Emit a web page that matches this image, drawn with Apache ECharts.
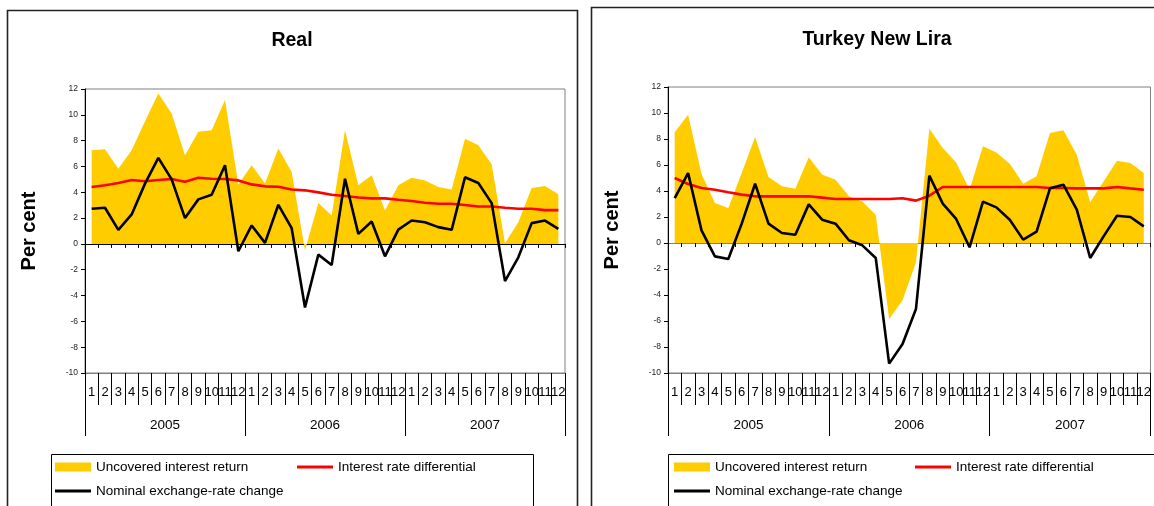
<!DOCTYPE html>
<html>
<head>
<meta charset="utf-8">
<script src="https://cdn.jsdelivr.net/npm/echarts@6/dist/echarts.min.js"></script>
<style>
  html, body { margin: 0; padding: 0; background: #fff; }
  #chart { width: 1154px; height: 506px; }
</style>
</head>
<body>
<div id="chart"></div>
<script>
// Monthly figures, 2005-2007, per cent
const years = ['2005', '2006', '2007'];
const months = ['1', '2', '3', '4', '5', '6', '7', '8', '9', '10', '11', '12'];
const yTicks = { min: -10, max: 12, step: 2 };

const seriesNames = ['Uncovered interest return', 'Interest rate differential', 'Nominal exchange-rate change'];

// Real
const realUncovered = [7.26, 7.34, 5.83, 7.26, 9.5, 11.66, 10.1, 6.87, 8.68, 8.81, 11.15, 4.6,
  6.1, 4.67, 7.39, 5.57, -0.5, 3.16, 2.2, 8.81, 4.54, 5.31, 2.59, 4.54,
  5.13, 4.92, 4.41, 4.22, 8.14, 7.65, 6.17, 0.05, 1.68, 4.33, 4.48, 3.84];
const realDifferential = [4.41, 4.54, 4.72, 4.95, 4.85, 4.95, 5.03, 4.82, 5.13, 5.05, 5.03, 4.92,
  4.61, 4.46, 4.43, 4.22, 4.15, 3.99, 3.81, 3.71, 3.6, 3.53, 3.53, 3.42,
  3.32, 3.19, 3.11, 3.11, 3.01, 2.9, 2.9, 2.8, 2.72, 2.72, 2.62, 2.62];
const realNominal = [2.72, 2.8, 1.09, 2.28, 4.67, 6.66, 5.0, 2.0, 3.45, 3.81, 6.09, -0.57,
  1.43, 0.08, 3.03, 1.22, -4.92, -0.83, -1.63, 5.05, 0.78, 1.74, -0.96, 1.11,
  1.81, 1.68, 1.3, 1.09, 5.16, 4.72, 3.16, -2.88, -1.04, 1.61, 1.81, 1.17];

// Turkey New Lira
const tryUncovered = [8.51, 9.87, 5.31, 3.08, 2.69, 5.38, 8.15, 5.08, 4.36, 4.18, 6.59, 5.26,
  4.87, 3.59, 3.2, 2.18, -5.85, -4.41, -1.5, 8.79, 7.31, 6.2, 4.1, 7.44,
  6.97, 6.1, 4.56, 5.13, 8.46, 8.67, 6.79, 3.13, 4.74, 6.33, 6.15, 5.38];
const tryDifferential = [5.0, 4.54, 4.23, 4.1, 3.9, 3.72, 3.59, 3.59, 3.59, 3.59, 3.59, 3.49,
  3.38, 3.38, 3.38, 3.38, 3.38, 3.44, 3.26, 3.64, 4.31, 4.31, 4.31, 4.31,
  4.31, 4.31, 4.31, 4.31, 4.23, 4.23, 4.2, 4.2, 4.2, 4.31, 4.2, 4.1];
const tryNominal = [3.46, 5.38, 0.97, -1.03, -1.23, 1.49, 4.56, 1.49, 0.77, 0.64, 2.97, 1.79,
  1.49, 0.21, -0.18, -1.15, -9.28, -7.77, -5.08, 5.18, 3.03, 1.85, -0.33, 3.18,
  2.74, 1.79, 0.26, 0.87, 4.21, 4.49, 2.56, -1.15, 0.51, 2.1, 2.0, 1.28];

const panels = [
  { title: 'Real', uncovered: realUncovered, differential: realDifferential, nominal: realNominal },
  { title: 'Turkey New Lira', uncovered: tryUncovered, differential: tryDifferential, nominal: tryNominal }
];

// one unique key per month; the label shows only the month number
const monthKeys = [];
years.forEach(y => months.forEach(m => monthKeys.push(y + '-' + m)));

const FONT = '"Liberation Sans", Arial, Helvetica, sans-serif';
const YELLOW = '#FFCC00';
const RED = '#FF0000';
const BLACK = '#000000';

// panel frames and plot areas (px)
const layout = [
  { frame: [7, 10, 570, 510], grid: { left: 85, right: 589, top: 89, bottom: 133 },
    titleX: 292, titleY: 39, nameX: 39, zeroColor: '#000', legendBox: [51, 454, 482, 60],
    legendCol1: 55, legendCol2: 297 },
  { frame: [591, 7, 580, 510], grid: { left: 668, right: 2, top: 87, bottom: 133 },
    titleX: 877, titleY: 38, nameX: 622, zeroColor: '#808080', legendBox: [668, 454, 500, 60],
    legendCol1: 674, legendCol2: 915 }
];

const grids = [], xAxes = [], yAxes = [], series = [], titles = [], legends = [], graphics = [];

panels.forEach((p, i) => {
  const L = layout[i];
  grids.push(Object.assign({ show: true, borderColor: '#808080', borderWidth: 1, backgroundColor: 'transparent' }, L.grid));

  titles.push({
    text: p.title, left: L.titleX, top: L.titleY - 8, textAlign: 'center', padding: 0,
    textStyle: { fontFamily: FONT, fontSize: 19.5, fontWeight: 'bold', color: '#000' }
  });

  yAxes.push({
    gridIndex: i, type: 'value', min: yTicks.min, max: yTicks.max, interval: yTicks.step,
    name: 'Per cent', nameLocation: 'middle', nameGap: L.grid.left - L.nameX,
    nameTextStyle: { fontFamily: FONT, fontSize: 20, fontWeight: 'bold', color: '#000' },
    axisLine: { show: true, lineStyle: { color: '#000', width: 1 } },
    axisTick: { show: true, length: 4, lineStyle: { color: '#000' } },
    axisLabel: { fontFamily: FONT, fontSize: 8.5, color: '#222', margin: 7 },
    splitLine: { show: false }
  });

  const base = xAxes.length;
  // month labels along the bottom
  xAxes.push({
    gridIndex: i, type: 'category', data: monthKeys, position: 'bottom', boundaryGap: true,
    axisLine: { show: true, onZero: false, lineStyle: { color: '#808080' } },
    axisTick: { show: true, interval: 0, length: 32, lineStyle: { color: '#000' } },
    axisLabel: { interval: 0, margin: 13, fontFamily: FONT, fontSize: 13, color: '#000',
      formatter: v => v.split('-')[1] },
    splitLine: { show: false }
  });
  // year labels below the months
  xAxes.push({
    gridIndex: i, type: 'category', data: years, position: 'bottom', boundaryGap: true,
    axisLine: { show: false, onZero: false },
    axisTick: { show: true, interval: 0, length: 63, lineStyle: { color: '#000' } },
    axisLabel: { interval: 0, margin: 45, fontFamily: FONT, fontSize: 13.5, color: '#000' },
    splitLine: { show: false }
  });
  // axis line through zero
  xAxes.push({
    gridIndex: i, type: 'category', data: monthKeys, position: 'bottom', boundaryGap: true,
    axisLine: { show: true, onZero: true, lineStyle: { color: L.zeroColor, width: 1 } },
    axisTick: { show: true, interval: 0, length: 4, lineStyle: { color: '#000' } },
    axisLabel: { show: false },
    splitLine: { show: false }
  });

  series.push({
    name: seriesNames[0], type: 'line', xAxisIndex: base, yAxisIndex: i, data: p.uncovered,
    symbol: 'none', lineStyle: { width: 0 }, itemStyle: { color: YELLOW },
    areaStyle: { color: YELLOW, opacity: 1 }, z: 1, animation: false
  });
  series.push({
    name: seriesNames[1], type: 'line', xAxisIndex: base, yAxisIndex: i, data: p.differential,
    symbol: 'none', lineStyle: { width: 2.6, color: RED }, itemStyle: { color: RED }, z: 3, animation: false
  });
  series.push({
    name: seriesNames[2], type: 'line', xAxisIndex: base, yAxisIndex: i, data: p.nominal,
    symbol: 'none', lineStyle: { width: 2.6, color: BLACK }, itemStyle: { color: BLACK }, z: 4, animation: false
  });

  const legendCommon = {
    orient: 'horizontal', padding: 0, itemGap: 0, selectedMode: false,
    itemStyle: { borderWidth: 0 },
    textStyle: { fontFamily: FONT, fontSize: 13.5, color: '#000' }
  };
  legends.push(Object.assign({}, legendCommon, {
    data: [{ name: seriesNames[0], icon: 'rect' }], left: L.legendCol1, top: 460, itemWidth: 36, itemHeight: 9
  }));
  legends.push(Object.assign({}, legendCommon, {
    data: [{ name: seriesNames[1], icon: 'rect' }], left: L.legendCol2, top: 460, itemWidth: 36, itemHeight: 3
  }));
  legends.push(Object.assign({}, legendCommon, {
    data: [{ name: seriesNames[2], icon: 'rect' }], left: L.legendCol1, top: 484, itemWidth: 36, itemHeight: 3
  }));

  // panel frame and legend box
  const f = L.frame;
  graphics.push({ type: 'rect', z: 0, silent: true,
    shape: { x: f[0] + 0.5, y: f[1] + 0.5, width: f[2], height: f[3] },
    style: { fill: 'none', stroke: '#222', lineWidth: 1.6 } });
  const b = L.legendBox;
  graphics.push({ type: 'rect', z: 0, silent: true,
    shape: { x: b[0] + 0.5, y: b[1] + 0.5, width: b[2], height: b[3] },
    style: { fill: 'none', stroke: '#000', lineWidth: 1 } });
});

const chart = echarts.init(document.getElementById('chart'), null, { renderer: 'canvas' });
chart.setOption({
  backgroundColor: '#fff',
  animation: false,
  title: titles,
  grid: grids,
  xAxis: xAxes,
  yAxis: yAxes,
  legend: legends,
  series: series,
  graphic: graphics
});
</script>
</body>
</html>
